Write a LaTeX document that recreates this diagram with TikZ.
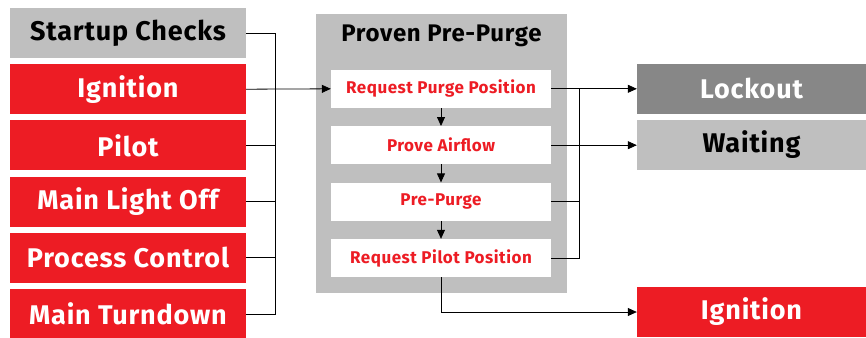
\documentclass[tikz,border=0pt]{standalone}
\usepackage{fontspec}
\setmainfont{Fira Sans}[LetterSpace=3]
\usetikzlibrary{arrows.meta,positioning}
\definecolor{myred}{RGB}{237,28,36}
\definecolor{mygray}{RGB}{191,191,191}
\definecolor{mydark}{RGB}{135,135,135}

\begin{document}
\begin{tikzpicture}[x=1pt,y=-1pt,
    outbox/.style={fill=myred,text=white,minimum width=236pt,minimum height=50pt,
      inner sep=0pt,font=\fontsize{27}{29}\selectfont\bfseries},
    stepbox/.style={fill=white,text=myred,minimum width=220pt,minimum height=38pt,
      inner sep=0pt,font=\fontsize{17}{19}\selectfont\bfseries},
    link/.style={line width=0.8pt},
    tip/.style={-{Triangle[length=9pt,width=8pt]}}]
  \useasboundingbox (0,0) rectangle (866,337);
  % left column
  \node[outbox,fill=mygray,text=black] (startup) at (128,33) {Startup Checks};
  \node[outbox,below=5.8pt of startup] (ign) {Ignition};
  \node[outbox,below=5.8pt of ign] (pilot) {Pilot};
  \node[outbox,below=5.8pt of pilot] (mlo) {Main Light Off};
  \node[outbox,below=5.8pt of mlo] (proc) {Process Control};
  \node[outbox,below=5.8pt of proc] (turndown) {Main Turndown};
  % pre-purge block
  \node[fill=mygray,minimum width=251pt,minimum height=279pt,inner sep=0pt] (purge)
    at (441.5,153.5) {};
  \node[font=\fontsize{24}{26}\selectfont\bfseries] (title) at (441.5,36) {Proven Pre-Purge};
  \node[stepbox] (reqpurge) at (441,88.8) {Request Purge Position};
  \node[stepbox,below=18pt of reqpurge] (airflow) {Prove Airflow};
  \node[stepbox,below=18pt of airflow] (prepurge) {Pre-Purge};
  \node[stepbox,below=18pt of prepurge] (reqpilot) {Request Pilot Position};
  % right column
  \node[outbox,minimum width=229pt,fill=mydark] (lockout) at (751.5,88.8) {Lockout};
  \node[outbox,minimum width=229pt,fill=mygray,text=black,below=5.8pt of lockout] (waiting)
    {Waiting};
  \node[outbox,minimum width=229pt] (ign2) at (751.5,312) {Ignition};
  % connectors
  \coordinate (busL) at (275,0);
  \coordinate (busR) at (579,0);
  \draw[link] (startup.east) -| (busL |- turndown.east) -- (turndown.east);
  \foreach \n in {pilot,mlo,proc}
    \draw[link] (\n.east) -- (\n.east -| busL);
  \draw[link,tip] (ign.east) -- (reqpurge.west);
  \draw[link,tip] (reqpurge) -- (airflow);
  \draw[link,tip] (airflow) -- (prepurge);
  \draw[link,tip] (prepurge) -- (reqpilot);
  \draw[link] (reqpurge.east) -| (busR |- reqpilot.east) -- (reqpilot.east);
  \draw[link] (prepurge.east) -- (prepurge.east -| busR);
  \draw[link,tip] (busR |- lockout.west) -- (lockout.west);
  \draw[link,tip] (airflow.east) -- (airflow.east -| waiting.west);
  \draw[link,tip] (reqpilot.south) |- (ign2.west);
\end{tikzpicture}
\end{document}
